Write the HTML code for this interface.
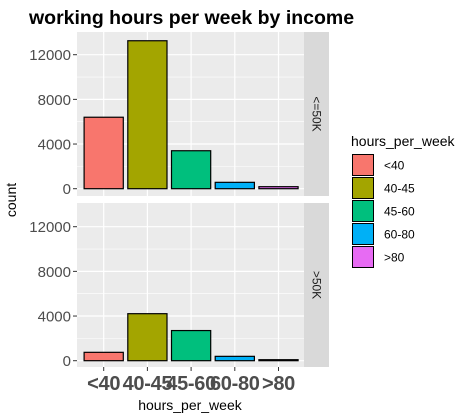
<!DOCTYPE html>
<html><head><meta charset="utf-8"><style>
body{margin:0;background:#fff;width:474px;height:419px;overflow:hidden}
svg{display:block;font-family:"Liberation Sans",Arial,sans-serif}
</style></head><body>
<svg id="chart" width="474" height="419"></svg>
<script>
const categories=["<40","40-45","45-60","60-80",">80"];
const colors=["#F8766D","#A3A500","#00BF7D","#00B0F6","#E76BF3"];
const panels=["<=50K",">50K"];
const countsLow=[6400,13250,3400,570,180];
const countsHigh=[750,4210,2700,390,90];
const yTicks=[0,4000,8000,12000];
const yMinor=[2000,6000,10000];
const NS="http://www.w3.org/2000/svg";
const svg=document.getElementById('chart');
function mk(t,a,p){const e=document.createElementNS(NS,t);for(const k in a)e.setAttribute(k,a[k]);(p||svg).appendChild(e);return e;}
const px0=77,px1=304,step=43.7,c0=103.7;
const xs=i=>c0+i*step;
const panelDefs=[{top:32,bot:196,zero:188.7,data:countsLow},{top:203,bot:367,zero:360.7,data:countsHigh}];
const k=134/12000;
panelDefs.forEach((p,pi)=>{
  const g=mk('g',{});
  
  
  const y=v=>p.zero-v*k;
  mk('rect',{x:px0,y:p.top,width:px1-px0,height:p.bot-p.top,fill:'#EBEBEB'},g);
  yMinor.forEach(v=>mk('line',{x1:px0,x2:px1,y1:y(v),y2:y(v),stroke:'#fff','stroke-width':0.6},g));
  yTicks.forEach(v=>{mk('line',{x1:px0,x2:px1,y1:y(v),y2:y(v),stroke:'#fff','stroke-width':1.2},g);
    mk('line',{x1:73,x2:77,y1:y(v),y2:y(v),stroke:'#333','stroke-width':1},g);
    const t=mk('text',{x:71,y:y(v)+5.5,'text-anchor':'end','font-size':15,fill:'#4D4D4D'},g);t.textContent=v;
    });
  categories.forEach((c,i)=>mk('line',{x1:xs(i),x2:xs(i),y1:p.top,y2:p.bot,stroke:'#fff','stroke-width':1.2},g));
  p.data.forEach((v,i)=>{const r=mk('rect',{x:xs(i)-19.6,y:y(v),width:39.2,height:Math.max(p.zero-y(v),0.5),fill:colors[i],stroke:'#000','stroke-width':1.2},g);
    });
  const s=mk('rect',{x:304,y:p.top,width:25,height:p.bot-p.top,fill:'#D9D9D9'},g);
  
  const cy=(p.top+p.bot)/2;
  const st=mk('text',{x:316.5,y:cy,'text-anchor':'middle','font-size':12,fill:'#1A1A1A',transform:`rotate(90 316.5 ${cy})`,'dominant-baseline':'central'},g);st.textContent=panels[pi];
  
});
categories.forEach((c,i)=>{mk('line',{x1:xs(i),x2:xs(i),y1:367,y2:371,stroke:'#333'});
  const t=mk('text',{x:xs(i),y:390,'text-anchor':'middle','font-size':20,'font-weight':'bold',fill:'#4D4D4D','letter-spacing':'-0.3'});t.textContent=c;
  });
let t=mk('text',{x:190,y:410,'text-anchor':'middle','font-size':14,fill:'#000'});t.textContent='hours_per_week';

t=mk('text',{x:16,y:200,'text-anchor':'middle','font-size':14,fill:'#000',transform:'rotate(-90 16 200)'});t.textContent='count';

t=mk('text',{x:29,y:24,'font-size':19.5,'font-weight':'bold',fill:'#000'});t.textContent='working hours per week by income';

t=mk('text',{x:351,y:146,'font-size':14,fill:'#000'});t.textContent='hours_per_week';

categories.forEach((c,i)=>{const yy=154.5+i*23;
  const r=mk('rect',{x:352.5,y:yy,width:21,height:21,fill:colors[i],stroke:'#000','stroke-width':1});
  
  const l=mk('text',{x:384,y:yy+15,'font-size':12,fill:'#000'});l.textContent=c;
  });
</script>
</body></html>
